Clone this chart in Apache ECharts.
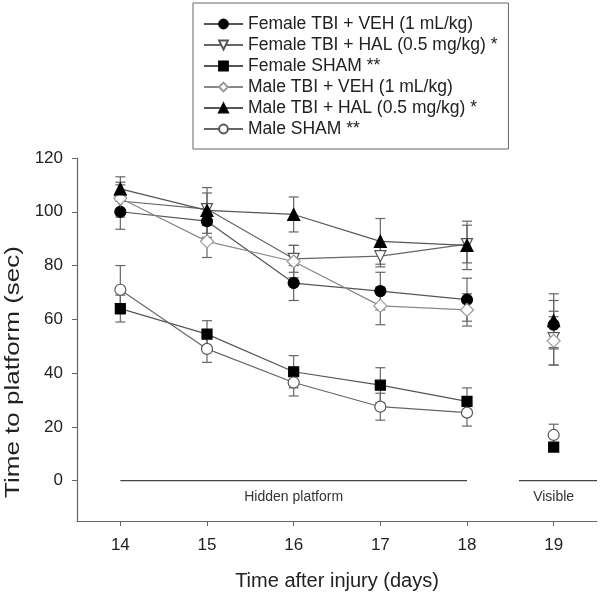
<!DOCTYPE html>
<html>
<head>
<meta charset="utf-8">
<script src="https://cdn.jsdelivr.net/npm/echarts@6/dist/echarts.min.js"></script>
<style>
  html, body { margin: 0; background: #fff; }
  #main { width: 600px; height: 596px; }
</style>
</head>
<body>
<div id="main"></div>
<script>
// days after injury (19 = visible platform)
const days = [14, 15, 16, 17, 18, 19];
const yTicks = [0, 20, 40, 60, 80, 100, 120];

const femaleVeh = [100, 96.5, 73.5, 70.5, 67.3, 58];
const femaleVehErr = [6.5, 6, 6.5, 7, 8, 9];
const femaleHal = [104, 101, 82.5, 83.5, 88, 53];
const femaleHalErr = [6, 6, 5, 4, 7, 10];
const femaleSham = [64, 54.5, 40.5, 35.5, 29.5, 12.5];
const femaleShamErr = [5, 5, 6, 6.5, 5, 1];
const maleVeh = [105, 89, 81.5, 65, 63.5, 52];
const maleVehErr = [6, 6, 6, 7, 6, 9];
const maleHal = [108.5, 100.5, 99, 89, 87.5, 59.5];
const maleHalErr = [4.5, 8.5, 6.5, 8.5, 9, 10];
const maleSham = [71, 49, 36.5, 27.5, 25.3, 17];
const maleShamErr = [9, 5, 5, 5, 5, 4];

// trial phases drawn under the data
const phaseNames = ['Hidden platform', 'Visible'];
const phaseStart = [14, 18.6];
const phaseEnd = [18, 19.5];
const phaseLabelAt = [16, 19];

const FONT = '"Liberation Sans", Arial, sans-serif';
const chart = echarts.init(document.getElementById('main'));

const groups = [
  { name: 'Female TBI + VEH (1 mL/kg)', vals: femaleVeh, err: femaleVehErr, symbol: 'circle', size: 11, fill: '#000', stroke: '#000', line: '#555' },
  { name: 'Female TBI + HAL (0.5 mg/kg) *', vals: femaleHal, err: femaleHalErr, symbol: 'triangle', rotate: 180, size: 11, fill: '#fff', stroke: '#555', line: '#666' },
  { name: 'Female SHAM **', vals: femaleSham, err: femaleShamErr, symbol: 'rect', size: 10, fill: '#000', stroke: '#000', line: '#555' },
  { name: 'Male TBI + VEH (1 mL/kg)', vals: maleVeh, err: maleVehErr, symbol: 'diamond', size: 13, fill: '#fff', stroke: '#999', line: '#888' },
  { name: 'Male TBI + HAL (0.5 mg/kg) *', vals: maleHal, err: maleHalErr, symbol: 'triangle', size: 12, fill: '#000', stroke: '#000', line: '#555' },
  { name: 'Male SHAM **', vals: maleSham, err: maleShamErr, symbol: 'circle', size: 11, fill: '#fff', stroke: '#555', line: '#666' }
];

function lineData(vals) {
  const out = [];
  days.forEach(function (d, i) {
    if (d === 19) out.push([18.5, null]); // break before the visible day
    out.push([d, vals[i]]);
  });
  return out;
}

function errorItem(params, api) {
  const x = api.value(0);
  const lo = api.coord([x, api.value(1)]);
  const hi = api.coord([x, api.value(2)]);
  const w = 5;
  const style = { stroke: '#666', lineWidth: 1.2 };
  return {
    type: 'group',
    children: [
      { type: 'line', shape: { x1: lo[0], y1: lo[1], x2: hi[0], y2: hi[1] }, style: style },
      { type: 'line', shape: { x1: lo[0] - w, y1: lo[1], x2: lo[0] + w, y2: lo[1] }, style: style },
      { type: 'line', shape: { x1: hi[0] - w, y1: hi[1], x2: hi[0] + w, y2: hi[1] }, style: style }
    ]
  };
}

const series = [];

// phase bars at y = 0
phaseNames.forEach(function (n, i) {
  series.push({
    type: 'line',
    silent: true,
    z: 1,
    symbol: 'none',
    lineStyle: { color: '#444', width: 1.3 },
    data: [[phaseStart[i], 0], [phaseEnd[i], 0]]
  });
});

// phase labels
series.push({
  type: 'custom',
  silent: true,
  z: 2,
  renderItem: function (params, api) {
    const c = api.coord([api.value(0), api.value(1)]);
    return {
      type: 'text', x: c[0], y: c[1] + 16,
      style: { text: phaseNames[params.dataIndex], fill: '#333', font: '14px ' + FONT, align: 'center', verticalAlign: 'middle' }
    };
  },
  encode: { x: 0, y: 1 },
  data: phaseLabelAt.map(function (x) { return [x, 0]; })
});

groups.forEach(function (g) {
  series.push({
    name: g.name + ' err',
    type: 'custom',
    z: 1,
    renderItem: errorItem,
    encode: { x: 0, y: [1, 2] },
    data: days.map(function (d, i) { return [d, g.vals[i] - g.err[i], g.vals[i] + g.err[i]]; }),
    silent: true
  });
});
groups.forEach(function (g) {
  series.push({
    name: g.name,
    type: 'line',
    z: 3,
    data: lineData(g.vals),
    symbol: g.symbol,
    symbolSize: g.size,
    symbolRotate: g.rotate || 0,
    showAllSymbol: true,
    lineStyle: { color: g.line, width: 1.2 },
    itemStyle: { color: g.fill, borderColor: g.stroke, borderWidth: 1.2 },
    animation: false
  });
});

const option = {
  animation: false,
  textStyle: { fontFamily: FONT },
  legend: {
    data: groups.map(function (g) { return g.name; }),
    orient: 'vertical',
    left: 193,
    top: 3,
    padding: [12, 11, 11, 10],
    itemWidth: 39,
    itemHeight: 11,
    itemGap: 3,
    borderColor: '#666',
    borderWidth: 1,
    textStyle: { fontSize: 17.5, lineHeight: 17, color: '#222', fontFamily: FONT }
  },
  grid: { left: 77, right: 3, top: 158, bottom: 73 },
  xAxis: {
    type: 'value',
    min: 13.5,
    max: 19.5,
    name: 'Time after injury (days)',
    nameLocation: 'middle',
    nameGap: 50,
    nameTextStyle: { fontSize: 20, color: '#222', fontFamily: FONT },
    axisLine: { show: true, onZero: false, lineStyle: { color: '#666', width: 1.2 } },
    axisTick: { show: true, length: 5, customValues: days, lineStyle: { color: '#666' } },
    axisLabel: { customValues: days, fontSize: 17, color: '#222', margin: 16 },
    splitLine: { show: false }
  },
  yAxis: {
    type: 'value',
    min: -15,
    max: 120,
    axisLine: { show: true, lineStyle: { color: '#666', width: 1.2 } },
    axisTick: { show: true, length: 5, customValues: yTicks, lineStyle: { color: '#666' } },
    axisLabel: { customValues: yTicks, fontSize: 17, color: '#222', margin: 14 },
    splitLine: { show: false }
  },
  graphic: [{
    type: 'text',
    x: 13,
    y: 372,
    rotation: Math.PI / 2,
    scaleX: 1.3,
    style: { text: 'Time to platform (sec)', font: '20px ' + FONT, fill: '#222', align: 'center', verticalAlign: 'middle' }
  }],
  series: series
};

chart.setOption(option);
</script>
</body>
</html>
